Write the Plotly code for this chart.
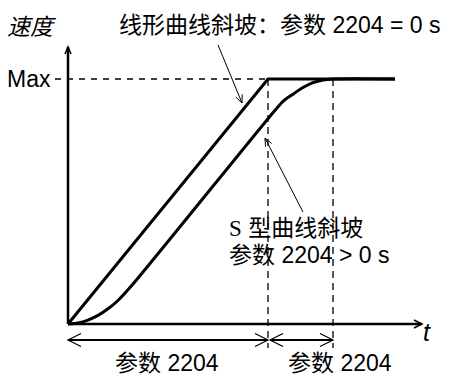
import plotly.graph_objects as go

# speed ramp: time in units of the ramp time, speed relative to Max
lin_t = [0, 1.0, 1.635]
lin_v = [0, 1.0, 1.0]

s_t = [0, 0.05, 0.1, 0.15, 0.2, 0.25, 0.325, 1.0, 1.075, 1.125, 1.175, 1.225, 1.275, 1.325, 1.635]
s_v = [0, 0.004, 0.016, 0.035, 0.062, 0.096, 0.163, 0.838, 0.909, 0.938, 0.965, 0.985, 0.996, 1.0, 1.0]

ramp_end = 1.0
s_end = 1.325
v_max = 1.0

x_range = [-0.34, 1.915]
y_range = [-0.2122, 1.3224]
W, H = 451, 376
SX = W / (x_range[1] - x_range[0])
SY = H / (y_range[1] - y_range[0])

FONT = "Liberation Sans, Arial, Noto Sans CJK SC, sans-serif"
CJK = "Noto Sans CJK SC, Liberation Sans, sans-serif"


def line(x0, y0, x1, y1, width=1, dash=None):
    return dict(type="line", xref="x", yref="y", x0=x0, y0=y0, x1=x1, y1=y1,
                line=dict(color="black", width=width, dash=dash))


def chevron(t, v, ux, uy, length, spread, width=1):
    # open arrow head; ux, uy is the pointing direction on screen (y up)
    nx, ny = -uy, ux
    pts = []
    for s in (1, -1):
        px = -ux * length + s * nx * spread
        py = -uy * length + s * ny * spread
        pts.append((t + px / SX, v + py / SY))
    path = "M {} {} L {} {} L {} {}".format(pts[0][0], pts[0][1], t, v, pts[1][0], pts[1][1])
    return dict(type="path", xref="x", yref="y", path=path,
                line=dict(color="black", width=width))


def arrow(t0, v0, t1, v1, length=8, spread=3.5, width=1):
    dx = (t1 - t0) * SX
    dy = (v1 - v0) * SY
    n = (dx ** 2 + dy ** 2) ** 0.5
    return [line(t0, v0, t1, v1, width), chevron(t1, v1, dx / n, dy / n, length, spread, width)]


fig = go.Figure()
fig.add_trace(go.Scatter(x=lin_t, y=lin_v, mode="lines",
                         line=dict(color="black", width=3)))
fig.add_trace(go.Scatter(x=s_t, y=s_v, mode="lines",
                         line=dict(color="black", width=3, shape="spline", smoothing=0.6)))

y_top = 1.1306
x_end = 1.77
dim_v = -0.0653
shapes = []
# dashed guides
shapes.append(line(-0.065, v_max, s_end, v_max, 1.3, "6px,6px"))
shapes.append(line(ramp_end, v_max, ramp_end, -0.098, 1.3, "7px,5px"))
shapes.append(line(s_end, v_max, s_end, -0.098, 1.3, "7px,5px"))
# axes
shapes.append(line(0, 0, 0, y_top, 2.5))
shapes.append(chevron(0, y_top, 0, 1, 7, 3, 1.5))
shapes.append(line(0, 0, x_end, 0, 2.5))
shapes.append(chevron(x_end, 0, 1, 0, 8, 4, 1.5))
# dimension arrows
shapes.append(line(0, dim_v, ramp_end, dim_v, 2))
shapes.append(chevron(0, dim_v, -1, 0, 13, 6.5, 1.2))
shapes.append(chevron(ramp_end, dim_v, 1, 0, 13, 6.5, 1.2))
shapes.append(line(ramp_end + 0.01, dim_v, s_end, dim_v, 2))
shapes.append(chevron(ramp_end + 0.01, dim_v, -1, 0, 13, 6.5, 1.2))
shapes.append(chevron(s_end, dim_v, 1, 0, 13, 6.5, 1.2))
# pointer arrows
shapes += arrow(0.75, 1.139, 0.87, 0.902)
shapes += arrow(1.175, 0.457, 0.985, 0.759)

ann = [
    dict(x=-0.18, y=1.22, text="<i>速度</i>", font=dict(family=CJK, size=23)),
    dict(x=0.245, y=1.22, text="线形曲线斜坡：参数 2204 = 0 s", xanchor="left"),
    dict(x=-0.075, y=v_max, text="Max", xanchor="right"),
    dict(x=0.795, y=0.392, xanchor="left",
         text="<span style='font-family:Liberation Serif'>S</span> 型曲线斜坡"),
    dict(x=0.795, y=0.28, xanchor="left", text="参数 2204 > 0 s"),
    dict(x=1.795, y=-0.033, text="<i>t</i>", font=dict(family=FONT, size=25)),
    dict(x=0.495, y=-0.158, text="参数 2204"),
    dict(x=1.36, y=-0.158, text="参数 2204"),
]
for a in ann:
    a.setdefault("font", dict(family=FONT, size=23, color="black"))
    a["font"].setdefault("color", "black")
    a.update(xref="x", yref="y", showarrow=False)

fig.update_layout(
    width=W, height=H,
    margin=dict(l=0, r=0, t=0, b=0),
    plot_bgcolor="white", paper_bgcolor="white",
    showlegend=False,
    shapes=shapes,
    annotations=ann,
    xaxis=dict(range=x_range, visible=False, fixedrange=True),
    yaxis=dict(range=y_range, visible=False, fixedrange=True),
)

fig.write_html("out.html", config={"displayModeBar": False},
               post_script="document.body.style.margin='0';")
